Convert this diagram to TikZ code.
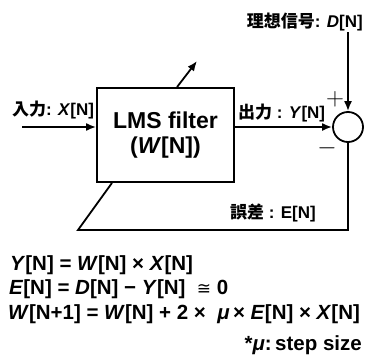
\documentclass[tikz,border=0pt]{standalone}
\usepackage{fontspec}
\setmainfont{Liberation Sans}
\newfontfamily\jp{Noto Sans CJK JP}
\newfontfamily\dejavu{DejaVu Sans}
\usetikzlibrary{arrows.meta,calc}

\tikzset{
  lbl/.style={font=\fontsize{17}{17}\selectfont\bfseries, inner sep=0pt},
  eqn/.style={font=\fontsize{20.5}{20.5}\selectfont\bfseries, inner sep=0pt},
  wire/.style={line width=1.8pt},
  sig/.style={wire, -{Latex[length=10pt,width=8pt]}},
}

\begin{document}
\begin{tikzpicture}[x=1pt,y=1pt]
\useasboundingbox (0,0) rectangle (366,360);

% LMS filter block
\node[draw, wire, minimum width=137pt, minimum height=94pt, align=center,
  font=\fontsize{23}{25}\selectfont\bfseries] (filt) at (165.5,225)
  {LMS filter\\(\textit{W}[N])};

% Summing point
\node[draw, wire, circle, minimum size=30pt, inner sep=0pt] (sum) at (348,233) {};
\node (plus) at (335,261) {\fontsize{24}{24}\selectfont$+$};
\node (minus) at (327,212) {\fontsize{24}{24}\selectfont$-$};

% Input
\coordinate (xin) at (22,233);
\draw[sig] (xin) -- (xin -| filt.west);
\node[lbl, anchor=base west] (xlbl) at (12,245) {{\jp 入力}: \textit{X}[N]};

% Output
\draw[sig] (sum.west -| filt.east) -- (sum.west);
\node[lbl, anchor=base west] (ylbl) at (238,242) {{\jp 出力} : \textit{Y}[N]};

% Desired signal
\coordinate (din) at (348,328);
\draw[sig] (din) -- (sum.north);
\node[lbl, anchor=base east] (dlbl) at (363,333) {{\jp 理想信号}: \textit{D}[N]};

% Weight update arrow
\coordinate (wtip) at (197,299);
\draw[sig] ($(filt.north)+(11.5,0)$) -- (wtip);

% Error feedback
\coordinate (fbr) at (348,130);
\coordinate (fbl) at (78,130);
\draw[wire] (sum.south) -- (fbr) -- (fbl) -- ($(filt.south)+(-53.5,0)$);
\node[lbl, anchor=base west] (elbl) at (230,142) {{\jp 誤差} : E[N]};

% Equations
\node[eqn, anchor=base west] (eq1) at (10,90)
  {\textit{Y}[N] = \textit{W}[N] × \textit{X}[N]};
\node[eqn, anchor=base west] (eq2) at (9,65.5)
  {\textit{E}[N] = \textit{D}[N] − \textit{Y}[N]\ \ {\dejavu\mdseries\fontsize{17}{17}\selectfont ≅} 0};
\node[eqn, anchor=base west] (eq3) at (8,41)
  {\textit{W}[N+1] = \textit{W}[N] + 2 ×\ \ \textit{μ}\,× \textit{E}[N] × \textit{X}[N]};
\node[eqn, anchor=base east] (note) at (362,10) {*\textit{μ}:\,step size};
\end{tikzpicture}
\end{document}
